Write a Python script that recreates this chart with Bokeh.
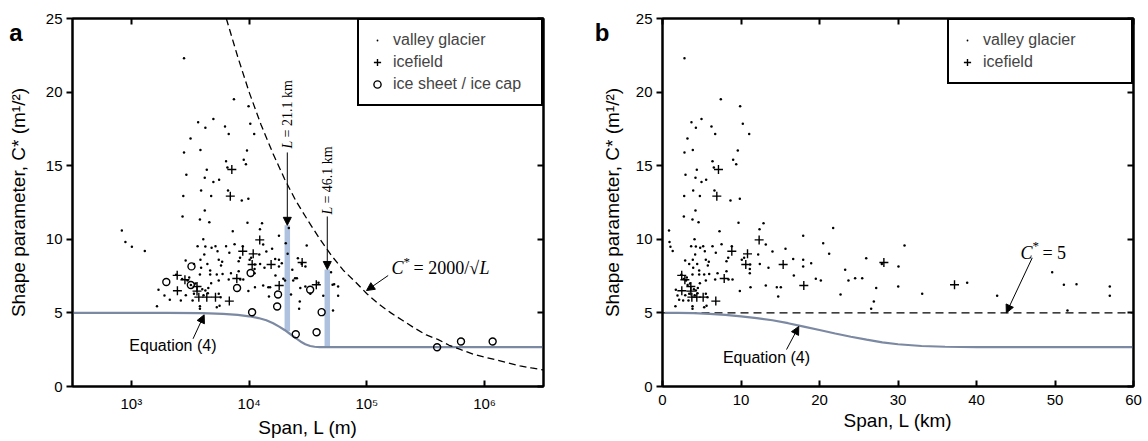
from math import pi
from bokeh.plotting import figure
from bokeh.layouts import row
from bokeh.models import Range1d, FixedTicker, LinearAxis, LogAxis, Label, Arrow, NormalHead
from bokeh.embed import file_html
from bokeh.resources import INLINE

# ---------------- data ----------------
valley_L_km = [
    2.80, 7.43, 9.89, 4.97, 3.69, 4.25, 6.24, 10.23, 6.71, 11.04,
    3.18, 2.80, 3.86, 9.59, 6.37, 9.00, 9.39, 6.54, 4.37, 2.93,
    4.20, 5.56, 4.97, 3.91, 6.62, 2.76, 4.76, 8.66, 9.85, 4.20,
    2.72, 3.82, 4.59, 9.68, 12.87, 12.36, 7.26, 0.83, 0.89, 1.01,
    1.30, 17.92, 4.08, 3.65, 4.25, 4.80, 5.18, 6.37, 7.52, 8.83,
    13.16, 20.47, 5.39, 4.16, 6.79, 15.67, 14.01, 10.40, 12.19, 21.23,
    8.37, 2.89, 3.40, 3.86, 4.42, 5.52, 5.90, 5.77, 8.15, 10.10,
    11.17, 12.40, 16.65, 17.92, 18.94, 17.92, 13.50, 11.12, 11.12, 8.15,
    3.91, 4.67, 2.40, 2.70, 3.00, 3.10, 3.82, 4.67, 5.31, 5.95,
    7.01, 6.71, 8.41, 8.92, 16.73, 19.53, 20.17, 5.52, 4.76, 11.21,
    9.85, 13.16, 14.56, 15.07, 14.74, 1.70, 1.91, 2.12, 2.63, 3.31,
    4.25, 4.46, 5.52, 5.73, 5.31, 5.61, 3.82, 3.82, 1.65, 21.74,
    25.95, 27.94, 30.83, 30.06, 23.27, 23.69, 24.54, 25.44, 22.68, 27.22,
    30.03, 26.92, 26.58, 33.08, 38.81, 42.63, 49.64, 51.13, 52.74, 51.59,
    56.98, 56.98, 3.20, 3.50, 4.00, 4.10, 4.50, 2.90, 3.40,
]
valley_C = [
    22.30, 19.52, 19.04, 18.18, 17.96, 17.57, 17.66, 17.85, 17.16, 17.16,
    16.85, 15.90, 16.06, 16.03, 15.31, 15.40, 15.10, 14.88, 14.72, 14.38,
    14.18, 14.04, 13.90, 13.32, 13.32, 12.95, 12.95, 12.64, 12.75, 11.95,
    11.55, 11.35, 11.16, 11.12, 11.09, 10.69, 10.55, 10.60, 9.81, 9.50,
    9.20, 10.24, 10.01, 9.53, 9.51, 9.42, 9.53, 9.53, 9.67, 9.53,
    9.65, 9.74, 9.19, 8.97, 9.08, 9.35, 9.17, 8.74, 8.97, 9.01,
    8.74, 8.56, 8.33, 8.61, 8.33, 8.61, 8.47, 8.22, 8.51, 8.61,
    8.29, 8.33, 8.67, 8.61, 8.38, 8.15, 8.06, 7.99, 7.70, 7.83,
    8.06, 7.88, 7.60, 7.30, 7.20, 7.40, 7.61, 7.61, 7.61, 7.65,
    7.70, 7.27, 7.27, 7.27, 7.54, 7.32, 7.20, 7.20, 7.02, 6.75,
    6.48, 6.86, 6.75, 6.75, 6.11, 6.57, 6.18, 5.89, 5.84, 5.84,
    6.52, 6.34, 6.30, 6.07, 5.39, 5.48, 5.28, 5.46, 5.45, 10.76,
    8.72, 8.33, 9.58, 8.15, 7.93, 7.20, 7.36, 7.36, 6.25, 6.70,
    6.79, 5.77, 5.28, 6.30, 7.04, 6.16, 7.77, 6.91, 6.95, 5.16,
    6.79, 6.16, 6.90, 7.00, 6.60, 6.20, 6.70, 6.20, 6.30,
]
icefield_L_km = [7.13, 6.92, 12.31, 8.83, 10.83, 10.61, 15.37, 7.86, 18.00, 2.46,
                 3.61, 3.61, 3.74, 4.37, 5.18, 6.79, 2.45, 2.85, 28.20, 37.20]
icefield_C = [14.74, 12.93, 9.96, 9.19, 9.01, 8.29, 8.29, 7.34, 6.86, 6.50,
              6.79, 6.48, 6.07, 6.07, 6.07, 5.80, 7.55, 7.25, 8.42, 6.91]
sheet_L_km = [1.98, 3.24, 3.20, 7.90, 10.3, 10.6, 17.6, 17.3, 24.9, 33.0, 37.4, 41.3, 395, 630, 1170]
sheet_C = [7.10, 8.16, 6.90, 6.69, 7.71, 5.04, 6.25, 5.43, 3.55, 6.57, 3.69, 5.05, 2.67, 3.06, 3.06]

eq4_L_km = [0.316, 1, 2, 4, 6, 8, 10, 12, 14, 16, 18, 20, 22, 24, 26, 28, 30, 33, 36, 40, 46, 100, 1000, 3162]
eq4_C = [5.0, 5.0, 5.0, 4.98, 4.93, 4.86, 4.77, 4.65, 4.50, 4.30, 4.07, 3.84, 3.60, 3.38, 3.18,
         3.00, 2.87, 2.75, 2.70, 2.68, 2.67, 2.67, 2.67, 2.67]

ref_L_m = [6.4e3, 8e3, 1e4, 1.26e4, 1.6e4, 2e4, 2.5e4, 3.2e4, 4e4, 5e4, 6.3e4, 8e4, 1e5, 1.26e5,
           1.6e5, 2e5, 2.5e5, 3.2e5, 4e5, 5e5, 6.3e5, 8e5, 1e6, 1.26e6, 1.6e6, 2e6, 2.5e6, 3.2e6]
ref_C = [25.0, 22.4, 20.0, 17.8, 15.8, 14.1, 12.6, 11.2, 10.0, 8.9, 7.9, 7.1, 6.3, 5.6,
         5.0, 4.5, 4.0, 3.5, 3.2, 2.8, 2.5, 2.2, 2.0, 1.8, 1.6, 1.4, 1.26, 1.12]

bar_L_km = [21.1, 46.1]
bar_top = [10.95, 7.95]
bar_bottom = [3.75, 2.67]

b_ref_L_km = [0, 60]
b_ref_C = [5, 5]

y_ticks = [0, 5, 10, 15, 20, 25]
a_x_ticks = [1e3, 1e4, 1e5, 1e6]
a_x_labels = ["10\u00b3", "10\u2074", "10\u2075", "10\u2076"]
b_x_ticks = [0, 10, 20, 30, 40, 50, 60]

SANS = "Liberation Sans"
SERIF = "Liberation Serif"
CURVE = "#7c89a2"
BAR = "#aec2e0"


def style_axis(ax, inward=True, labels=True):
    ax.axis_line_width = 2
    ax.axis_line_color = "black"
    ax.major_tick_line_width = 2
    ax.major_tick_line_color = "black"
    ax.minor_tick_line_color = None
    ax.major_tick_in = 6 if inward else 0
    ax.major_tick_out = 0 if inward else 6
    ax.major_label_text_font = SANS
    ax.major_label_text_font_size = "15px" if labels else "0px"
    ax.major_label_text_color = "black"
    ax.axis_label_text_font = SANS
    ax.axis_label_text_font_size = "19px"
    ax.axis_label_text_font_style = "normal"
    ax.axis_label_text_color = "black"


def base_fig(width, bl, br, x_range, x_type, xlabel, x_ticks, x_overrides, lab_standoff):
    p = figure(width=width, height=441, x_range=x_range, y_range=Range1d(0, 25),
               x_axis_type=x_type, output_backend="svg", toolbar_location=None,
               min_border_left=bl, min_border_right=br, min_border_top=18, min_border_bottom=55)
    p.outline_line_color = "black"
    p.outline_line_width = 2
    p.xgrid.visible = False
    p.ygrid.visible = False
    p.background_fill_color = "white"
    xa = p.xaxis[0]
    xa.ticker = FixedTicker(ticks=x_ticks)
    if x_overrides:
        xa.major_label_overrides = x_overrides
    xa.axis_label = xlabel
    style_axis(xa, inward=True)
    xa.major_label_standoff = 8
    xa.axis_label_standoff = 2
    ya = p.yaxis[0]
    ya.ticker = FixedTicker(ticks=y_ticks)
    ya.axis_label = "Shape parameter, C* (m\u00b9/\u00b2)"
    style_axis(ya, inward=False)
    ya.major_label_standoff = 4
    ya.axis_label_standoff = lab_standoff
    top = (LogAxis if x_type == "log" else LinearAxis)(ticker=FixedTicker(ticks=x_ticks))
    style_axis(top, inward=True, labels=False)
    top.major_label_overrides = {t: "" for t in x_ticks}
    p.add_layout(top, "above")
    right = LinearAxis(ticker=FixedTicker(ticks=y_ticks))
    style_axis(right, inward=True, labels=False)
    right.major_label_overrides = {t: "" for t in y_ticks}
    p.add_layout(right, "right")
    return p


def style_legend(p):
    lg = p.legend[0]
    lg.location = "top_right"
    lg.margin = 0
    lg.padding = 9
    lg.spacing = 0
    lg.label_height = 22
    lg.glyph_height = 22
    lg.glyph_width = 18
    lg.label_width = 139
    lg.label_standoff = 7
    lg.border_line_color = "black"
    lg.border_line_width = 2
    lg.border_line_alpha = 1
    lg.background_fill_alpha = 1
    lg.label_text_font = SANS
    lg.label_text_font_size = "16px"


def arrow(p, x0, y0, x1, y1):
    p.add_layout(Arrow(end=NormalHead(size=8, fill_color="black", line_color="black", line_width=1),
                       x_start=x0, y_start=y0, x_end=x1, y_end=y1, line_width=1, line_color="black"))


def make_label(x, y, text, font=SANS, size="16px", style="normal", align="center", baseline="middle",
               angle=0, xo=0, yo=0):
    return Label(x=x, y=y, text=text, text_font=font, text_font_size=size, text_font_style=style,
                 text_align=align, text_baseline=baseline, angle=angle, x_offset=xo, y_offset=yo,
                 text_color="black")


def lab(p, *args, **kw):
    p.add_layout(make_label(*args, **kw))


# ---------------- panel a ----------------
pa = base_fig(580, 72, 37, Range1d(10 ** 2.5, 10 ** 6.5), "log", "Span, L (m)", a_x_ticks,
              dict(zip(a_x_ticks, a_x_labels)), 14)
bar_L_m = [v * 1000 for v in bar_L_km]
pa.segment(x0=bar_L_m, y0=bar_bottom, x1=bar_L_m, y1=bar_top, line_width=5.5, line_color=BAR, line_cap="butt")
pa.line([v * 1000 for v in eq4_L_km], eq4_C, line_color=CURVE, line_width=2.2)
pa.line(ref_L_m, ref_C, line_color="black", line_width=1.3, line_dash="7 4")
pa.scatter([v * 1000 for v in valley_L_km], valley_C, marker="dot", size=10, color="black",
           legend_label="valley glacier")
pa.scatter([v * 1000 for v in icefield_L_km], icefield_C, marker="cross", size=9, line_width=1.4,
           line_color="black", legend_label="icefield")
pa.scatter([v * 1000 for v in sheet_L_km], sheet_C, marker="circle", size=7, line_width=1.4,
           line_color="black", fill_color=None, legend_label="ice sheet / ice cap")
style_legend(pa)

# annotations a
lab(pa, 21100, 16.17, "L", font=SERIF, size="14px", style="italic", align="left", angle=pi / 2)
lab(pa, 21100, 16.17, "= 21.1 km", font=SERIF, size="14px", align="left", angle=pi / 2, yo=11)
arrow(pa, 21100, 15.9, 21100, 10.95)
lab(pa, 46100, 11.68, "L", font=SERIF, size="14px", style="italic", align="left", angle=pi / 2)
lab(pa, 46100, 11.68, "= 46.1 km", font=SERIF, size="14px", align="left", angle=pi / 2, yo=11)
arrow(pa, 46100, 11.55, 46100, 7.95)
lab(pa, 161800, 8.02, "C", font=SERIF, size="18px", style="italic", align="left", baseline="alphabetic")
lab(pa, 161800, 8.02, "*", font=SERIF, size="13px", align="left", baseline="alphabetic", xo=12, yo=7)
lab(pa, 161800, 8.02, "= 2000/\u221a", font=SERIF, size="18px", align="left", baseline="alphabetic", xo=22)
lab(pa, 161800, 8.02, "L", font=SERIF, size="18px", style="italic", align="left", baseline="alphabetic", xo=88)
arrow(pa, 151700, 7.54, 99300, 6.52)
lab(pa, 2254, 2.79, "Equation (4)")
arrow(pa, 3340, 3.24, 4150, 4.87)
# panel letter: kept in a side panel so it is not clipped to the frame
pa.add_layout(make_label(104.8, 24.05, "a", size="24px", style="bold", baseline="alphabetic"), "right")

# ---------------- panel b ----------------
pb = base_fig(568, 82, 15, Range1d(0, 60), "linear", "Span, L (km)", b_x_ticks, None, 10)
pb.line(b_ref_L_km, b_ref_C, line_color="black", line_width=1.3, line_dash="8 5")
pb.line(eq4_L_km, eq4_C, line_color=CURVE, line_width=2.2)
pb.scatter(valley_L_km, valley_C, marker="dot", size=10, color="black", legend_label="valley glacier")
pb.scatter(icefield_L_km, icefield_C, marker="cross", size=9, line_width=1.4, line_color="black",
           legend_label="icefield")
style_legend(pb)

lab(pb, 45.6, 9.10, "C", font=SERIF, size="18px", style="italic", align="left", baseline="alphabetic")
lab(pb, 45.6, 9.10, "*", font=SERIF, size="13px", align="left", baseline="alphabetic", xo=12, yo=7)
lab(pb, 45.6, 9.10, "= 5", font=SERIF, size="18px", align="left", baseline="alphabetic", xo=22)
arrow(pb, 47.1, 8.74, 43.8, 5.0)
lab(pb, 13.25, 1.97, "Equation (4)")
arrow(pb, 15.8, 2.51, 17.36, 4.08)
pb.add_layout(make_label(-7.7, 24.05, "b", size="24px", style="bold", baseline="alphabetic"), "left")

layout = row(pa, pb)
open("out.html", "w").write(file_html(layout, INLINE))
